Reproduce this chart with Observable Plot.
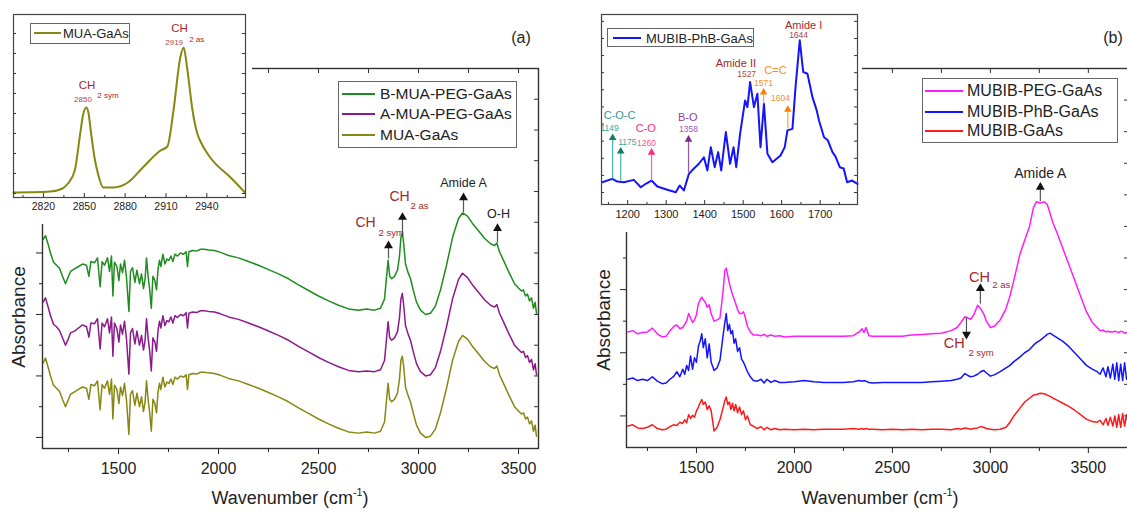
<!DOCTYPE html>
<html><head><meta charset="utf-8">
<script src="https://cdn.jsdelivr.net/npm/d3@7"></script>
<script src="https://cdn.jsdelivr.net/npm/@observablehq/plot@0.6"></script>
<style>
body{margin:0;background:#fff;}
#root{position:relative;width:1127px;height:516px;overflow:hidden;background:#fff;font-family:"Liberation Sans",Arial,sans-serif;color:#222;}
#root svg{position:absolute;top:0;max-width:none;}
.lg{position:absolute;border:1px solid #666;background:#fff;}
.sw{position:absolute;height:2px;}
.lt{position:absolute;white-space:nowrap;line-height:1;}
.ax{position:absolute;white-space:nowrap;line-height:1;transform:translate(-50%,-50%);}
</style></head><body><div id="root"></div>
<script>
// ---------- Panel (a) data ----------
const wnA = [1123,1135,1150,1160,1175,1190,1205,1220,1235,1245,1260,1280,1300,1320,1340,1352,1362,1380,1395,1408,1418,1430,1445,1455,1465,1472,1480,1492,1502,1510,1520,1530,1540,1552,1560,1570,1582,1592,1605,1615,1625,1633,1640,1648,1656,1664,1672,1682,1690,1698,1705,1712,1722,1732,1742,1752,1762,1772,1782,1795,1810,1825,1838,1845,1852,1870,1890,1910,1930,1950,1980,2010,2050,2100,2150,2200,2250,2300,2350,2400,2450,2500,2550,2600,2650,2700,2740,2780,2810,2830,2840,2848,2856,2866,2880,2895,2905,2912,2919,2926,2935,2948,2960,2975,2990,3010,3035,3060,3085,3110,3140,3170,3200,3220,3245,3270,3300,3330,3360,3380,3392,3405,3425,3450,3480,3500,3515,3525,3535,3545,3555,3565,3575,3583,3590];
const muaGaAs = [1.21,1.29,1.12,1.00,0.85,0.80,0.75,0.62,0.50,0.58,0.70,0.74,0.78,0.82,0.80,0.62,0.86,0.84,0.92,0.45,0.86,0.80,0.92,0.70,0.95,0.30,0.85,0.78,0.55,0.82,0.68,0.88,0.60,0.05,0.70,0.76,0.52,0.72,0.50,0.66,0.42,0.58,0.92,0.62,0.40,0.10,0.62,0.55,0.40,0.75,0.88,0.78,0.98,0.82,0.90,0.88,0.95,0.86,0.98,0.95,1.00,0.98,1.02,0.78,1.02,1.04,1.03,1.06,1.06,1.05,1.04,1.01,0.96,0.92,0.86,0.80,0.73,0.66,0.58,0.48,0.39,0.30,0.22,0.15,0.09,0.07,0.09,0.07,0.10,0.25,0.60,0.88,0.62,0.58,0.62,0.72,0.95,1.25,1.32,1.15,0.82,0.68,0.58,0.38,0.20,0.07,0.00,0.02,0.14,0.40,0.80,1.25,1.56,1.66,1.60,1.48,1.36,1.24,1.15,1.12,1.16,1.02,0.88,0.70,0.50,0.43,0.38,0.40,0.30,0.33,0.22,0.27,0.10,0.20,0.02];
const aMuaPegGaAs = [2.20,2.27,2.10,1.98,1.84,1.80,1.74,1.62,1.50,1.57,1.70,1.73,1.78,1.83,1.80,1.63,1.86,1.85,1.93,1.44,1.86,1.80,1.93,1.70,1.96,1.32,1.86,1.77,1.55,1.83,1.68,1.89,1.60,1.03,1.70,1.77,1.52,1.73,1.50,1.66,1.42,1.58,1.93,1.62,1.40,1.08,1.62,1.55,1.40,1.75,1.89,1.78,1.98,1.82,1.90,1.88,1.96,1.86,1.98,1.95,2.00,1.98,2.03,1.78,2.02,2.04,2.03,2.06,2.06,2.05,2.04,2.01,1.96,1.92,1.86,1.80,1.73,1.66,1.58,1.48,1.39,1.30,1.22,1.15,1.09,1.07,1.08,1.07,1.10,1.25,1.60,1.88,1.62,1.58,1.62,1.72,1.95,2.25,2.34,2.15,1.82,1.68,1.58,1.38,1.20,1.07,1.00,1.02,1.14,1.40,1.80,2.25,2.57,2.67,2.60,2.48,2.36,2.24,2.15,2.12,2.16,2.02,1.88,1.70,1.50,1.43,1.38,1.40,1.30,1.33,1.22,1.27,1.10,1.20,1.02];
const bMuaPegGaAs = [3.22,3.28,3.12,3.00,2.85,2.80,2.75,2.62,2.50,2.58,2.70,2.74,2.78,2.82,2.80,2.62,2.86,2.84,2.92,2.45,2.86,2.80,2.92,2.70,2.95,2.30,2.85,2.78,2.55,2.82,2.68,2.88,2.60,2.05,2.70,2.76,2.52,2.72,2.50,2.66,2.42,2.58,2.92,2.62,2.40,2.10,2.62,2.55,2.40,2.75,2.88,2.78,2.98,2.82,2.90,2.88,2.95,2.86,2.98,2.95,3.00,2.98,3.02,2.78,3.02,3.04,3.03,3.06,3.06,3.05,3.04,3.01,2.96,2.92,2.86,2.80,2.73,2.66,2.58,2.48,2.39,2.30,2.22,2.15,2.09,2.07,2.09,2.07,2.10,2.25,2.60,2.88,2.62,2.58,2.62,2.72,2.95,3.25,3.33,3.15,2.82,2.68,2.58,2.38,2.20,2.07,2.00,2.02,2.14,2.40,2.80,3.25,3.56,3.65,3.60,3.48,3.36,3.24,3.15,3.12,3.16,3.02,2.88,2.70,2.50,2.43,2.38,2.40,2.30,2.33,2.22,2.27,2.10,2.20,2.02];
const seriesA = ["B-MUA-PEG-GaAs","A-MUA-PEG-GaAs","MUA-GaAs"];
const xTicksMajor = [1500,2000,2500,3000,3500];
const xTicksMinor = [1250,1750,2250,2750,3250];
const xTicksTop = [1250,1500,1750,2000,2250,2500,2750,3000,3250,3500];

// inset (a)
const wnInsetA = [2798,2810,2825,2834,2838,2843,2847,2849,2851.5,2853,2855,2857.5,2860,2864,2871,2882,2893,2906,2911,2915.5,2920.5,2923,2925.5,2929.5,2933,2935,2942.5,2957.5,2968];
const vInsetA = [0.05,0.06,0.1,0.25,0.5,1.15,3.0,3.9,4.3,4.05,3.0,1.8,1.0,0.3,0.3,0.55,1.3,2.15,2.35,4.15,6.8,7.3,6.3,4.15,3.0,2.65,1.8,0.8,0.05];
const insetATicks = [2820,2850,2880,2910,2940];
const insetAMinor = [2805,2835,2865,2895,2925,2955];

// ---------- Panel (b) data ----------
const wnB = [1150,1175,1200,1225,1250,1275,1300,1325,1345,1365,1385,1400,1415,1430,1440,1450,1460,1470,1480,1490,1500,1510,1520,1527,1535,1545,1555,1565,1575,1590,1605,1620,1635,1645,1652,1660,1668,1676,1684,1692,1700,1710,1720,1730,1740,1750,1760,1775,1790,1810,1830,1845,1860,1880,1900,1925,1950,2000,2050,2100,2150,2200,2250,2300,2330,2345,2355,2365,2380,2400,2450,2500,2550,2600,2650,2700,2750,2800,2830,2850,2870,2885,2900,2915,2935,2950,2965,2980,3000,3020,3050,3080,3100,3120,3150,3175,3200,3220,3235,3255,3275,3290,3305,3320,3340,3370,3400,3430,3460,3490,3520,3545,3560,3575,3590,3600,3612,3625,3635,3645,3655,3665,3675,3685,3695,3705];
const mubibGaAs = [-0.16,-0.14,-0.19,-0.20,-0.18,-0.14,-0.20,-0.22,-0.21,-0.17,-0.14,-0.15,-0.10,-0.12,-0.06,-0.11,0.02,-0.04,0.01,-0.02,0.08,0.14,0.22,0.26,0.18,0.22,0.10,0.16,0.08,-0.24,-0.18,-0.06,0.12,0.24,0.30,0.18,0.22,0.10,0.20,0.08,0.18,0.05,0.14,0.02,0.08,-0.06,0.00,-0.14,-0.16,-0.20,-0.17,-0.22,-0.18,-0.22,-0.20,-0.22,-0.21,-0.22,-0.21,-0.22,-0.21,-0.21,-0.21,-0.20,-0.21,-0.20,-0.21,-0.20,-0.21,-0.21,-0.22,-0.21,-0.22,-0.21,-0.22,-0.21,-0.21,-0.22,-0.20,-0.21,-0.19,-0.20,-0.21,-0.20,-0.19,-0.17,-0.18,-0.20,-0.21,-0.22,-0.21,-0.18,-0.10,0.00,0.12,0.22,0.28,0.33,0.34,0.36,0.35,0.33,0.31,0.28,0.25,0.20,0.15,0.09,0.02,-0.05,-0.09,-0.10,-0.07,-0.14,-0.04,-0.15,-0.02,-0.16,0.00,-0.18,0.02,-0.18,0.04,-0.16,0.02,-0.15];
const mubibPhbGaAs = [0.58,0.60,0.56,0.58,0.56,0.62,0.55,0.51,0.52,0.58,0.63,0.70,0.62,0.74,0.66,0.80,0.72,0.95,0.74,0.92,0.85,1.10,1.20,1.30,1.08,1.22,0.92,1.14,0.85,0.72,0.76,0.88,1.25,1.48,1.62,1.35,1.45,1.30,1.35,1.15,1.22,1.02,1.08,0.90,0.85,0.78,0.70,0.62,0.56,0.55,0.58,0.52,0.58,0.53,0.56,0.53,0.53,0.54,0.56,0.54,0.53,0.53,0.53,0.54,0.56,0.55,0.56,0.55,0.53,0.52,0.53,0.53,0.53,0.53,0.53,0.54,0.55,0.56,0.58,0.60,0.67,0.64,0.62,0.63,0.66,0.70,0.72,0.68,0.63,0.65,0.70,0.76,0.80,0.86,0.93,1.00,1.05,1.12,1.16,1.20,1.25,1.29,1.31,1.28,1.24,1.18,1.10,1.00,0.90,0.80,0.74,0.70,0.66,0.76,0.62,0.78,0.60,0.82,0.58,0.84,0.56,0.82,0.56,0.84,0.58,0.62];
const mubibPegGaAs = [1.33,1.35,1.30,1.32,1.33,1.39,1.30,1.25,1.26,1.35,1.42,1.44,1.38,1.40,1.45,1.50,1.62,1.55,1.48,1.52,1.60,1.78,1.84,1.88,1.84,1.80,1.72,1.76,1.62,1.50,1.52,1.55,1.95,2.30,2.34,2.22,2.10,2.00,1.92,1.85,1.78,1.68,1.62,1.62,1.65,1.55,1.42,1.33,1.28,1.28,1.27,1.29,1.26,1.28,1.26,1.27,1.25,1.26,1.26,1.26,1.26,1.26,1.26,1.27,1.33,1.38,1.32,1.40,1.27,1.26,1.26,1.26,1.26,1.28,1.29,1.30,1.31,1.35,1.40,1.48,1.57,1.55,1.53,1.60,1.75,1.70,1.62,1.50,1.40,1.42,1.52,1.70,1.90,2.15,2.55,2.78,3.00,3.30,3.39,3.37,3.39,3.35,3.20,3.05,2.90,2.65,2.40,2.15,1.90,1.65,1.48,1.40,1.35,1.36,1.33,1.34,1.33,1.33,1.34,1.33,1.32,1.34,1.33,1.31,1.32,1.32];
const seriesB = ["MUBIB-PEG-GaAs","MUBIB-PhB-GaAs","MUBIB-GaAs"];

// inset (b)
const wnInsetB = [1134,1160,1173,1190,1216,1234,1247,1262,1277,1303,1325,1335,1346,1359,1372,1385,1398,1407,1416,1426,1435,1443,1455,1466,1475,1482,1492,1505,1511,1518,1528,1537,1545,1554,1563,1576,1597,1608,1615,1628,1636,1647,1656,1667,1680,1691,1697,1710,1720,1732,1740,1751,1761,1770,1783,1797];
const vInsetB = [0.6,0.8,0.64,0.6,0.74,0.31,0.51,0.7,0.35,0.16,0.02,0.41,0.12,1.09,1.4,1.68,2.06,1.29,2.65,1.48,2.36,1.29,3.53,1.68,2.65,1.48,3.43,5.38,4.99,6.45,4.99,5.77,2.65,5.19,2.26,1.77,2.16,2.65,3.63,3.72,6.16,8.89,7.04,6.94,5.57,4.8,4.21,3.23,3.05,2.36,2.1,1.48,1.4,0.6,0.7,0.5];
const insetBTicks = [1200,1300,1400,1500,1600,1700];
const insetBMinor = [1150,1250,1350,1450,1550,1650,1750];

// ---------- annotations (data coordinates) ----------
const arrowsA = [{w:2850,v1:2.91,v2:3.12},{w:2920,v1:3.33,v2:3.58},{w:3225,v1:3.66,v2:3.90},{w:3395,v1:3.17,v2:3.40}];
const chA = [{w:2735,v:3.49,t:"CH"},{w:2905,v:3.92,t:"CH"}];
const subA = [{w:2800,v:3.33,t:"2 sym"},{w:2960,v:3.77,t:"2 as"}];
const bandA = [{w:3225,v:4.13,t:"Amide A"},{w:3400,v:3.64,t:"O-H"}];

const arrowsBup = [{w:3255,v1:3.40,v2:3.62},{w:2949,v1:1.78,v2:2.02}];
const arrowsBdown = [{w:2878,v1:1.56,v2:1.29}];
const chB = [{w:2944,v:2.20,t:"CH"},{w:2816,v:1.15,t:"CH"}];
const subB = [{w:3010,v:2.08,t:"2 as"},{w:2888,v:1.00,t:"2 sym"}];
const bandB = [{w:3255,v:3.84,t:"Amide A"}];

const insetAText = [{w:2852,v:5.4,t:"CH"},{w:2920,v:8.25,t:"CH"}];
const insetASub = [{w:2859.5,v:4.9,t:"2 sym"},{w:2927,v:7.7,t:"2 as"}];
const insetANum = [{w:2849,v:4.7,t:"2850"},{w:2916,v:7.55,t:"2919"}];

const insetBNames = [
  {w:1179,v:4.5,t:"C-O-C",g:"coc"},{w:1247,v:3.74,t:"C-O",g:"co"},{w:1356,v:4.39,t:"B-O",g:"bo"},
  {w:1481,v:7.54,t:"Amide II",g:"am"},{w:1584,v:7.13,t:"C=C",g:"cc"},{w:1657,v:9.77,t:"Amide I",g:"am"}];
const insetBNums = [
  {w:1153,v:3.74,t:"1149",g:"coc"},{w:1199,v:2.92,t:"1175",g:"coc"},{w:1249,v:2.87,t:"1260",g:"co"},
  {w:1358,v:3.68,t:"1358",g:"bo"},{w:1509,v:6.9,t:"1527",g:"am"},{w:1553,v:6.37,t:"1571",g:"cc"},
  {w:1597,v:5.5,t:"1604",g:"cc"},{w:1644,v:9.18,t:"1644",g:"am"}];
const insetBArrows = [
  {w:1161,v1:0.82,v2:3.2,g:"coc"},{w:1182,v1:0.7,v2:2.4,g:"coc"},{w:1262,v1:0.7,v2:2.34,g:"co"},
  {w:1358,v1:1.17,v2:3.1,g:"bo"},{w:1553,v1:5.2,v2:5.85,g:"cc"},{w:1616,v1:3.74,v2:4.85,g:"cc"}];

// ---------- styles ----------
const FONT = '"Liberation Sans", Arial, sans-serif';
const colA = {"B-MUA-PEG-GaAs":"#1f8c1f","A-MUA-PEG-GaAs":"#8c1a8c","MUA-GaAs":"#878712"};
const colB = {"MUBIB-PEG-GaAs":"#ff1cff","MUBIB-PhB-GaAs":"#1414ff","MUBIB-GaAs":"#ff1a1a"};
const RED = "#a4282c";
const stemCol = {coc:"#43b5ad",co:"#ff5c9a",bo:"#9a55aa",cc:"#ffa040",am:RED};
const headCol = {coc:"#177a6c",co:"#ff2a78",bo:"#7b2a8a",cc:"#ff8000",am:RED};
const nameCol = {coc:"#2e9c96",co:"#ff2a78",bo:"#8e3fa0",cc:"#ff8c1a",am:RED};
const numCol = {coc:"#3aa6a0",co:"#ff4f8f",bo:"#9b59b6",cc:"#f5902a",am:"#b0474a"};

const rows = (xs, ys) => xs.map((w, i) => ({w, v: ys[i]}));
const inX = (ticks, side, len, inner) => Plot.ruleX(ticks, {x: d => d, [side === "bottom" ? "insetTop" : "insetBottom"]: inner - len, stroke: "#333", strokeWidth: 1});
const inY = (ticks, side, len, inner) => Plot.ruleY(ticks, {y: d => d, [side === "left" ? "insetRight" : "insetLeft"]: inner - len, stroke: "#333", strokeWidth: 1});
const noText = () => "";

const root = document.getElementById("root");
function add(svg, left) { svg.style.left = left + "px"; root.appendChild(svg); }

// ---------- Panel (a) main ----------
{
  const W = 560, H = 516, mL = 42, mR = 22, mT = 68, mB = 68;
  const iW = W - mL - mR, iH = H - mT - mB;
  const data = {"B-MUA-PEG-GaAs": bMuaPegGaAs, "A-MUA-PEG-GaAs": aMuaPegGaAs, "MUA-GaAs": muaGaAs};
  const svg = Plot.plot({
    width: W, height: H, marginLeft: mL, marginRight: mR, marginTop: mT, marginBottom: mB,
    x: {domain: [1120, 3600]}, y: {domain: [-0.18, 6]},
    style: {fontFamily: FONT, background: "transparent", color: "#222"},
    marks: [
      ...seriesA.slice().reverse().map(s => Plot.line(rows(wnA, data[s]), {x: "w", y: "v", stroke: colA[s], strokeWidth: 1.5})),
      Plot.axisX(xTicksMajor, {anchor: "bottom", tickSize: 6, tickPadding: 8, fontSize: 16, tickFormat: d => String(d), label: null, color: "#222"}),
      Plot.axisX(xTicksMinor, {anchor: "bottom", tickSize: 4, tickFormat: noText, label: null, color: "#222"}),
      Plot.axisY([0,1,2,3,4,5,6], {anchor: "left", tickSize: 6, tickFormat: noText, label: null, color: "#222"}),
      Plot.axisY([0.5,1.5,2.5,3.5,4.5,5.5], {anchor: "left", tickSize: 3, tickFormat: noText, label: null, color: "#222"}),
      inX(xTicksTop, "top", 5, iH),
      inY([0.5,1,1.5,2,2.5,3,3.5,4,4.5,5,5.5], "right", 4, iW),
      Plot.link(arrowsA, {x1: "w", x2: "w", y1: "v1", y2: "v2", stroke: "#555", strokeWidth: 1.2}),
      Plot.dot(arrowsA, {x: "w", y: "v2", symbol: "triangle", r: 3.3, fill: "#111", stroke: "none"}),
      Plot.text(chA, {x: "w", y: "v", text: "t", fill: RED, fontSize: 14}),
      Plot.text(subA, {x: "w", y: "v", text: "t", fill: RED, fontSize: 9.5, textAnchor: "start"}),
      Plot.text(bandA, {x: "w", y: "v", text: "t", fill: "#222", fontSize: 12.5}),
      Plot.frame({stroke: "#333", strokeWidth: 1.4})
    ]
  });
  add(svg, 0);
}

// ---------- Panel (b) main ----------
{
  const W = 570, H = 516, mL = 56, mR = 11, mT = 68, mB = 69;
  const iW = W - mL - mR, iH = H - mT - mB;
  const data = {"MUBIB-PEG-GaAs": mubibPegGaAs, "MUBIB-PhB-GaAs": mubibPhbGaAs, "MUBIB-GaAs": mubibGaAs};
  const svg = Plot.plot({
    width: W, height: H, marginLeft: mL, marginRight: mR, marginTop: mT, marginBottom: mB,
    x: {domain: [1143, 3710]}, y: {domain: [-0.5, 5.5]},
    style: {fontFamily: FONT, background: "transparent", color: "#222"},
    marks: [
      ...seriesB.slice().reverse().map(s => Plot.line(rows(wnB, data[s]), {x: "w", y: "v", stroke: colB[s], strokeWidth: 1.5})),
      Plot.axisX(xTicksMajor, {anchor: "bottom", tickSize: 6, tickPadding: 8, fontSize: 16, tickFormat: d => String(d), label: null, color: "#222"}),
      Plot.axisX(xTicksMinor, {anchor: "bottom", tickSize: 4, tickFormat: noText, label: null, color: "#222"}),
      Plot.axisY([0,1,2,3,4,5], {anchor: "left", tickSize: 6, tickFormat: noText, label: null, color: "#222"}),
      Plot.axisY([0.5,1.5,2.5,3.5,4.5], {anchor: "left", tickSize: 3, tickFormat: noText, label: null, color: "#222"}),
      inX(xTicksTop, "top", 5, iH),
      inY([0,0.5,1,1.5,2,2.5,3,3.5,4,4.5,5], "right", 5, iW),
      Plot.link([...arrowsBup, ...arrowsBdown], {x1: "w", x2: "w", y1: "v1", y2: "v2", stroke: "#555", strokeWidth: 1.2}),
      Plot.dot(arrowsBup, {x: "w", y: "v2", symbol: "triangle", r: 3.3, fill: "#111", stroke: "none"}),
      Plot.dot(arrowsBdown, {x: "w", y: "v2", symbol: "triangle", r: 3.3, fill: "#111", stroke: "none", rotate: 180}),
      Plot.text(chB, {x: "w", y: "v", text: "t", fill: RED, fontSize: 14.5}),
      Plot.text(subB, {x: "w", y: "v", text: "t", fill: RED, fontSize: 9.5, textAnchor: "start"}),
      Plot.text(bandB, {x: "w", y: "v", text: "t", fill: "#222", fontSize: 14}),
      Plot.frame({stroke: "#333", strokeWidth: 1.4})
    ]
  });
  add(svg, 570);
}

// ---------- Inset (a) ----------
{
  const W = 252, H = 224, mL = 13, mR = 7, mT = 14, mB = 27;
  const iW = W - mL - mR, iH = H - mT - mB;
  const svg = Plot.plot({
    width: W, height: H, marginLeft: mL, marginRight: mR, marginTop: mT, marginBottom: mB,
    x: {domain: [2798, 2968.4]}, y: {domain: [-0.2, 8.95], axis: null},
    style: {fontFamily: FONT, background: "#fff", color: "#222"},
    marks: [
      Plot.line(rows(wnInsetA, vInsetA), {x: "w", y: "v", stroke: colA["MUA-GaAs"], strokeWidth: 2, curve: "monotone-x"}),
      Plot.axisX(insetATicks, {anchor: "bottom", tickSize: 0, tickPadding: 5, fontSize: 10.5, tickFormat: d => String(d), label: null, color: "#222"}),
      inX(insetATicks, "bottom", 4, iH),
      inX(insetAMinor, "bottom", 2, iH),
      inY([0,1,2,3,4,5,6,7,8], "left", 3, iW),
      inY([0,1,2,3,4,5,6,7,8], "right", 3, iW),
      Plot.text(insetAText, {x: "w", y: "v", text: "t", fill: RED, fontSize: 11.5}),
      Plot.text(insetASub, {x: "w", y: "v", text: "t", fill: RED, fontSize: 8, textAnchor: "start"}),
      Plot.text(insetANum, {x: "w", y: "v", text: "t", fill: "#b0474a", fontSize: 8}),
      Plot.frame({stroke: "#444", strokeWidth: 1.2})
    ]
  });
  add(svg, 0);
}

// ---------- Inset (b) ----------
{
  const W = 272, H = 232, mL = 11, mR = 5, mT = 14, mB = 28;
  const iW = W - mL - mR, iH = H - mT - mB;
  const by = g => insetBArrows.filter(d => d.g === g);
  const groups = ["coc","co","bo","cc"];
  const svg = Plot.plot({
    width: W, height: H, marginLeft: mL, marginRight: mR, marginTop: mT, marginBottom: mB,
    x: {domain: [1132, 1797]}, y: {domain: [-0.7, 10.4], axis: null},
    style: {fontFamily: FONT, background: "#fff", color: "#222"},
    marks: [
      Plot.line(rows(wnInsetB, vInsetB), {x: "w", y: "v", stroke: colB["MUBIB-PhB-GaAs"], strokeWidth: 2}),
      Plot.axisX(insetBTicks, {anchor: "bottom", tickSize: 0, tickPadding: 6, fontSize: 11, tickFormat: d => String(d), label: null, color: "#222"}),
      inX(insetBTicks, "bottom", 4, iH),
      inX(insetBMinor, "bottom", 2, iH),
      inY([0,1,2,3,4,5,6,7,8,9,10], "left", 3, iW),
      inY([0,1,2,3,4,5,6,7,8,9,10], "right", 3, iW),
      ...groups.flatMap(g => [
        Plot.link(by(g), {x1: "w", x2: "w", y1: "v1", y2: "v2", stroke: stemCol[g], strokeWidth: 1.2}),
        Plot.dot(by(g), {x: "w", y: "v2", symbol: "triangle", r: 2.8, fill: headCol[g], stroke: "none"})
      ]),
      ...["coc","co","bo","cc","am"].flatMap(g => [
        Plot.text(insetBNames.filter(d => d.g === g), {x: "w", y: "v", text: "t", fill: nameCol[g], fontSize: 11}),
        Plot.text(insetBNums.filter(d => d.g === g), {x: "w", y: "v", text: "t", fill: numCol[g], fontSize: 8.5})
      ]),
      Plot.frame({stroke: "#444", strokeWidth: 1.2})
    ]
  });
  add(svg, 590);
}

// ---------- HTML text: legends, axis titles, panel tags ----------
function legend(box, entries, colors, opts) {
  const d = document.createElement("div");
  d.className = "lg";
  Object.assign(d.style, {left: box[0] + "px", top: box[1] + "px", width: box[2] + "px", height: box[3] + "px"});
  entries.forEach((name, i) => {
    const cy = opts.rows[i] - box[1];
    const sw = document.createElement("div");
    sw.className = "sw";
    Object.assign(sw.style, {left: opts.line[0] + "px", width: opts.line[1] + "px", top: (cy - 1) + "px", background: colors[name]});
    const t = document.createElement("div");
    t.className = "lt";
    t.textContent = name;
    Object.assign(t.style, {left: opts.text + "px", top: (cy - opts.fs * 0.5) + "px", fontSize: opts.fs + "px"});
    d.appendChild(sw); d.appendChild(t);
  });
  root.appendChild(d);
}
legend([338, 81, 177, 65], seriesA, colA, {rows: [93, 113, 134], line: [3, 33], text: 41, fs: 15.5});
legend([922, 78, 194, 63], seriesB, colB, {rows: [90, 111, 130], line: [2, 38], text: 44, fs: 16});
legend([30, 23, 98, 19], ["MUA-GaAs"], colA, {rows: [32], line: [3, 27], text: 32, fs: 13});
legend([607, 28, 145, 17], ["MUBIB-PhB-GaAs"], colB, {rows: [37], line: [5, 28], text: 38, fs: 13});

function label(html, x, y, fs, rot) {
  const d = document.createElement("div");
  d.className = "ax";
  d.innerHTML = html;
  Object.assign(d.style, {left: x + "px", top: y + "px", fontSize: fs + "px"});
  if (rot) d.style.transform = "translate(-50%,-50%) rotate(-90deg)";
  root.appendChild(d);
}
const xTitle = 'Wavenumber (cm<sup style="font-size:0.6em;vertical-align:0.7em">-1</sup>)';
label(xTitle, 290, 497, 18);
label(xTitle, 880, 497, 18);
label("Absorbance", 18, 317, 19, true);
label("Absorbance", 603, 320, 19, true);
label("(a)", 521, 38, 16);
label("(b)", 1113, 38, 16);
</script></body></html>
